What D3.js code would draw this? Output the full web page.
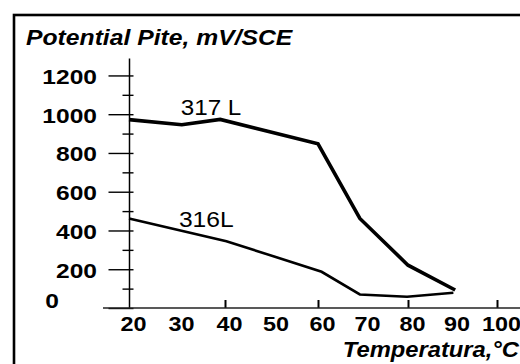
<!DOCTYPE html>
<html><head><meta charset="utf-8">
<script src="https://cdn.jsdelivr.net/npm/d3@7"></script>
<style>html,body{margin:0;padding:0;background:#fff;overflow:hidden}</style>
</head><body><svg id="c" width="520" height="364"></svg>
<script>
// ---- data ----
const yTicks = [0,100,200,300,400,500,600,700,800,900,1000,1100,1200];
const xTicks = [20,30,40,50,60,70,80,90,100];
const xMajorTicks = [40,60,80,100];
const temps317 = [20, 31, 39, 60, 69.3, 80, 90.6];
const vals317  = [972, 946, 973, 847, 462, 221, 93];
const temps316 = [20, 40.3, 60.8, 69.3, 79.8, 90.2];
const vals316  = [462, 345, 187, 70, 58, 79];
const seriesNames = ["317 L", "316L"];
const titleText = "Potential Pite, mV/SCE";
const xTitleText = "Temperatura,\u00B0C";

// ---- layout ----
const W = 520, H = 364;
const FONT = "'Liberation Sans', Arial, Helvetica, sans-serif";
const svg = d3.select("#c");

svg.append("rect").attr("x",14).attr("y",15).attr("width",W).attr("height",H)
  .attr("fill","#fff").attr("stroke","#000").attr("stroke-width",2.6);

const x = d3.scaleLinear().domain([20,40,60,80,100]).range([129,225,318,408,497]);
const y = d3.scaleLinear().domain([0,1290]).range([308,58]);

// y axis
const gy = svg.append("g").attr("transform",`translate(${x(20)},0)`)
  .call(d3.axisLeft(y).tickValues(yTicks).tickSize(0).tickSizeOuter(0)
        .tickFormat(d => d % 200 === 0 ? String(d) : ""));
gy.select(".domain").attr("stroke","#000").attr("stroke-width",1.5);
gy.selectAll(".tick line").attr("x1",4.5).attr("x2", d => d % 200 === 0 ? -20.5 : -6.5)
  .attr("stroke","#000").attr("stroke-width",1.4);
gy.selectAll(".tick text").attr("x",0).attr("dy",null)
  .attr("text-anchor","end")
  .attr("transform", d => d === 0 ? "translate(-70,-1) scale(1.17,1)" : "translate(-32,8) scale(1.17,1)")
  .style("font-family",FONT).style("font-size","21px").style("font-weight","bold").attr("fill","#000");

// x axis
const gx = svg.append("g").attr("transform",`translate(0,${y(0)})`)
  .call(d3.axisBottom(x).tickValues(xTicks).tickSize(0).tickSizeOuter(0).tickFormat(String));
gx.select(".domain").remove();
gx.append("line").attr("x1", x(20)-26).attr("x2", W).attr("y1",0).attr("y2",0)
  .attr("stroke","#222").attr("stroke-width",1.5);
gx.selectAll(".tick line").attr("y1",0).attr("y2",-8)
  .attr("stroke","#000").attr("stroke-width",2)
  .attr("display", d => xMajorTicks.includes(d) ? null : "none");
gx.selectAll(".tick text").attr("y",0).attr("dy",null)
  .attr("text-anchor","middle")
  .attr("transform","translate(4,23) scale(1.17,1)")
  .style("font-family",FONT).style("font-size","20px").style("font-weight","bold").attr("fill","#000");

// lines
const line = d3.line().x(d => x(d[0])).y(d => y(d[1]));
svg.append("path").datum(d3.zip(temps317, vals317)).attr("d", line)
  .attr("fill","none").attr("stroke","#000").attr("stroke-width",3.6).attr("stroke-linejoin","miter");
svg.append("path").datum(d3.zip(temps316, vals316)).attr("d", line)
  .attr("fill","none").attr("stroke","#000").attr("stroke-width",2.6).attr("stroke-linejoin","miter");

// series labels
function txt(str, tx, ty, size, opts) {
  const t = svg.append("text").text(str)
    .attr("transform", `translate(${tx},${ty}) scale(${opts.sx||1},1)`)
    .attr("text-anchor", opts.anchor || "start")
    .style("font-family", FONT).style("font-size", size + "px")
    .style("font-weight", opts.bold ? "bold" : "normal")
    .style("font-style", opts.italic ? "italic" : "normal")
    .attr("fill","#000");
  return t;
}
txt(seriesNames[0], x(31) - 1, y(998), 22, {sx:1.1});
txt(seriesNames[1], x(30.6) - 1, y(419), 22, {sx:1.12});

// titles
txt(titleText, 26, 45, 23, {bold:true, italic:true, sx:1.075});
txt(xTitleText, 519, 357, 22, {bold:true, italic:true, sx:1.08, anchor:"end"});
</script></body></html>
